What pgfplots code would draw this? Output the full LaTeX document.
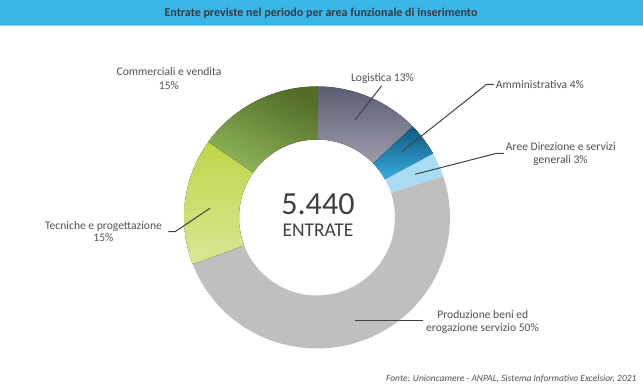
\documentclass[border=0pt]{standalone}
\usepackage{pgfplots}
\pgfplotsset{compat=1.18}
\usepgfplotslibrary{fillbetween}
\usepackage{fontspec}
\setmainfont{Carlito}
\definecolor{titlebar}{HTML}{3AB5E8}
\definecolor{titleline}{HTML}{8AD3F2}
\definecolor{txt}{HTML}{404040}
\definecolor{lbl}{HTML}{505050}
\definecolor{logA}{HTML}{5C5C72}
\definecolor{logB}{HTML}{9C9CAC}
\definecolor{ammA}{HTML}{0E587E}
\definecolor{ammB}{HTML}{38ACDF}
\definecolor{aree}{HTML}{AADCF3}
\definecolor{prod}{HTML}{BFBFBF}
\definecolor{tecA}{HTML}{BFD548}
\definecolor{tecB}{HTML}{D9E796}
\definecolor{comA}{HTML}{526D28}
\definecolor{comB}{HTML}{90B65A}
\tikzset{lab/.style={text=lbl, font=\fontsize{8.2}{9}\selectfont}}
\def\cx{317}
\def\cy{217.5}
\def\Rx{133}
\def\Ry{131}
\def\rr{78}
% slice: start% , end% , id , style
\newcommand{\slice}[4]{%
  \addplot[draw=none, name path=o#3, domain=#1:#2, samples=80]
    ({\cx+\Rx*cos(90-3.6*x)}, {\cy-\Ry*sin(90-3.6*x)});
  \addplot[draw=none, name path=i#3, domain=#1:#2, samples=80]
    ({\cx+\rr*cos(90-3.6*x)}, {\cy-\rr*sin(90-3.6*x)});
  \addplot[#4] fill between[of=o#3 and i#3];
}
\begin{document}
\begin{tikzpicture}
\begin{axis}[
  scale only axis, width=16cm, height=9.7792cm,
  xmin=0, xmax=643, ymin=0, ymax=393, y dir=reverse,
  hide axis, clip=false,
]
% title bar
\fill[titlebar] (0,0) rectangle (643,25);
\fill[titleline] (0,25) rectangle (643,26.5);
\node[font=\fontsize{8.5}{9}\selectfont\bfseries, text=txt!90!black] at (321,12.8) {Entrate previste nel periodo per area funzionale di inserimento};
% data: Logistica 12.8, Amministrativa 4.1, Aree Direzione 3.0, Produzione 49.3, Tecniche 15.6, Commerciali 15.2
\slice{0}{12.8}{a}{top color=logA, bottom color=logB}
\slice{12.8}{16.9}{b}{top color=ammA, bottom color=ammB}
\slice{16.9}{19.9}{c}{fill=aree}
\slice{19.9}{69.2}{d}{fill=prod}
\slice{69.2}{84.8}{e}{top color=tecA, bottom color=tecB}
\slice{84.8}{100}{f}{top color=comA, bottom color=comB, shading angle=-25}
% centre
\node[text=txt, font=\fontsize{22.8}{24}\selectfont] at (318,204) {5.440};
\node[text=txt, font=\fontsize{13.8}{15}\selectfont] at (318,230.3) {ENTRATE};
% leader lines
\draw[txt, line width=0.7pt] (381.5,86) -- (355,120);
\draw[txt, line width=0.7pt] (494,84.3) -- (486.7,84.3) -- (401.7,151.7);
\draw[txt, line width=0.7pt] (504,153.3) -- (496.7,153.3) -- (415,174.3);
\draw[txt, line width=0.7pt] (168.3,231.7) -- (175,231.7) -- (210,208.3);
\draw[txt, line width=0.7pt] (355,320) -- (422.7,320);
% labels
\node[lab, anchor=base] at (169,75.7) {Commerciali e vendita};
\node[lab, anchor=base] at (169,89.3) {15\%};
\node[lab, anchor=base] at (382.5,81.7) {Logistica 13\%};
\node[lab, anchor=base west, inner xsep=0pt] at (495.7,88.3) {Amministrativa 4\%};
\node[lab, anchor=base] at (560.8,150.7) {Aree Direzione e servizi};
\node[lab, anchor=base] at (560.5,163.3) {generali 3\%};
\node[lab, anchor=base] at (103.5,229.3) {Tecniche e progettazione};
\node[lab, anchor=base] at (103.5,241.7) {15\%};
\node[lab, anchor=base] at (482.8,318.3) {Produzione beni ed};
\node[lab, anchor=base] at (482.5,331.7) {erogazione servizio 50\%};
\node[anchor=base east, inner xsep=0pt, text=lbl, font=\fontsize{6.7}{8}\selectfont\itshape] at (636.7,381.7) {Fonte: Unioncamere - ANPAL, Sistema Informativo Excelsior, 2021};
\end{axis}
\end{tikzpicture}
\end{document}
